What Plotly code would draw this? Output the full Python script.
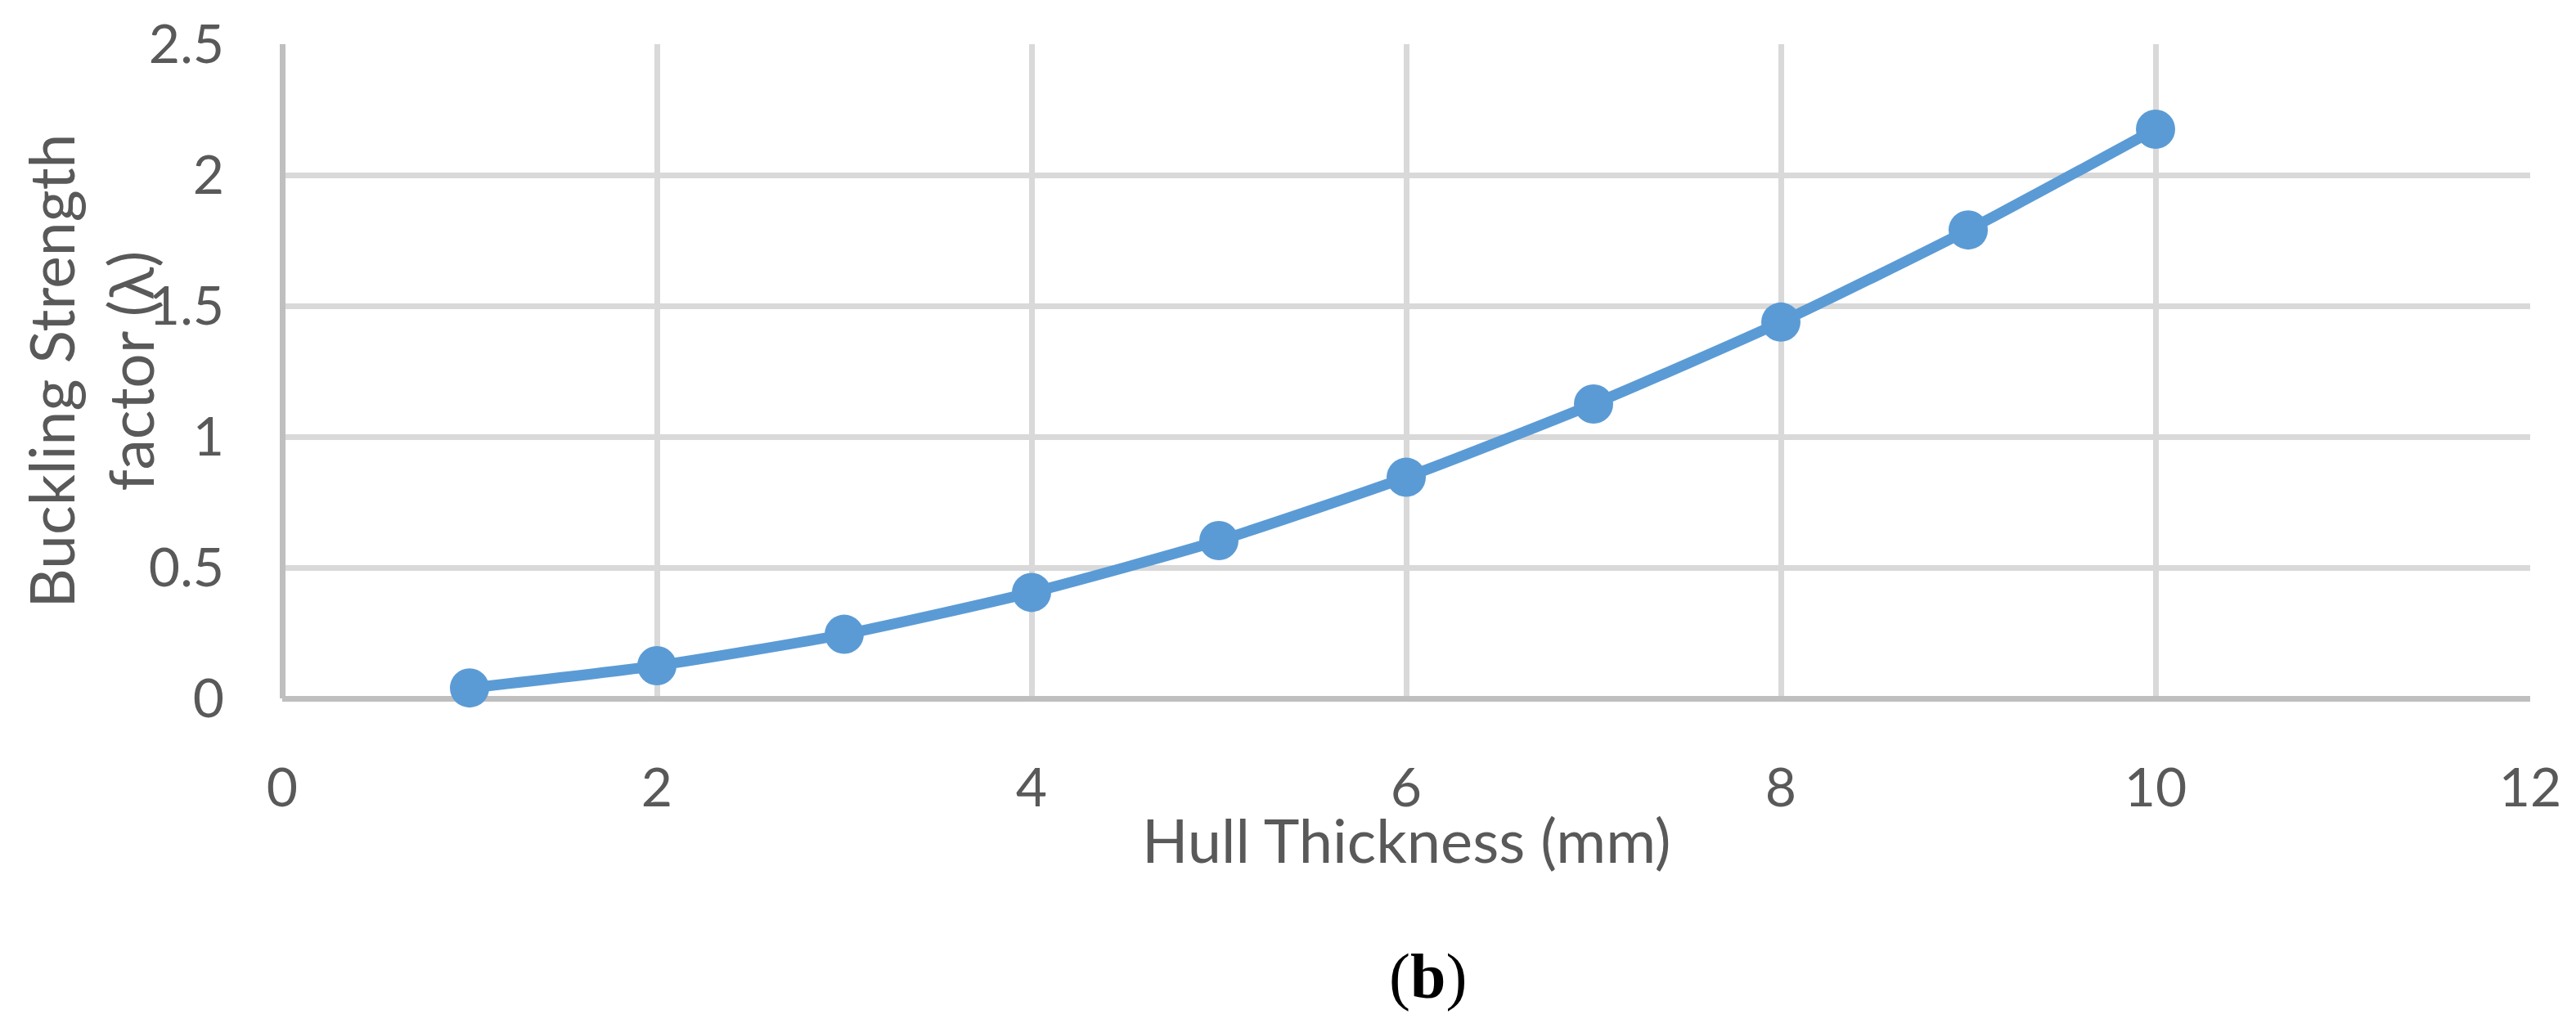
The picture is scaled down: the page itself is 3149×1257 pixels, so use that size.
import plotly.graph_objects as go

# Data
hull_thickness_mm = [1, 2, 3, 4, 5, 6, 7, 8, 9, 10]
buckling_factor = [0.04, 0.125, 0.245, 0.405, 0.603, 0.845, 1.125, 1.438, 1.79, 2.175]

x_ticks = [0, 2, 4, 6, 8, 10, 12]
y_ticks = [0, 0.5, 1, 1.5, 2, 2.5]
y_tick_labels = ["0", "0.5", "1", "1.5", "2", "2.5"]

x_title = "Hull Thickness (mm)"
y_title = "Buckling Strength<br>factor (λ)"
caption = "(<b>b</b>)"

BLUE = "#5b9bd5"
GRID = "#d9d9d9"
AXIS = "#bfbfbf"
TEXT = "#595959"
FONT = "Lato"

fig = go.Figure()
fig.add_trace(go.Scatter(
    x=hull_thickness_mm,
    y=buckling_factor,
    mode="lines+markers",
    line=dict(color=BLUE, width=13, shape="spline", smoothing=0.6),
    marker=dict(color=BLUE, size=48),
    showlegend=False,
    cliponaxis=False,
))

fig.update_layout(
    width=3149,
    height=1257,
    autosize=False,
    margin=dict(l=345, r=56, t=54, b=403, pad=0),
    paper_bgcolor="white",
    plot_bgcolor="white",
    font=dict(family=FONT, color=TEXT, size=66),
    xaxis=dict(
        range=[0, 12],
        tickmode="array",
        tickvals=x_ticks,
        ticktext=[str(v) for v in x_ticks],
        showgrid=True,
        gridcolor=GRID,
        gridwidth=7,
        zeroline=True,
        zerolinecolor=AXIS,
        zerolinewidth=7,
        showline=False,
        ticks="",
        ticklabelstandoff=65,
        tickfont=dict(family=FONT, color=TEXT, size=66),
        fixedrange=True,
    ),
    yaxis=dict(
        range=[0, 2.5],
        tickmode="array",
        tickvals=y_ticks,
        ticktext=y_tick_labels,
        showgrid=True,
        gridcolor=GRID,
        gridwidth=7,
        zeroline=True,
        zerolinecolor=AXIS,
        zerolinewidth=7,
        showline=False,
        ticks="",
        ticklabelstandoff=70,
        tickfont=dict(family=FONT, color=TEXT, size=66),
        fixedrange=True,
    ),
    annotations=[
        dict(
            text=x_title, xref="paper", yref="paper", x=0.5, y=-0.215,
            xanchor="center", yanchor="middle", showarrow=False,
            font=dict(family=FONT, color=TEXT, size=74),
        ),
        dict(
            text=y_title, xref="paper", yref="paper", x=-0.0853, y=0.5,
            xanchor="center", yanchor="middle", showarrow=False, textangle=-90,
            font=dict(family=FONT, color=TEXT, size=75),
        ),
        dict(
            text=caption, xref="paper", yref="paper", x=0.5096, y=-0.424,
            xanchor="center", yanchor="middle", showarrow=False,
            font=dict(family="Liberation Serif", color="black", size=78),
        ),
    ],
)

fig.write_html(
    "out.html",
    config={"displayModeBar": False, "staticPlot": True},
    post_script="document.body.style.margin='0';document.body.style.overflow='hidden';",
)
